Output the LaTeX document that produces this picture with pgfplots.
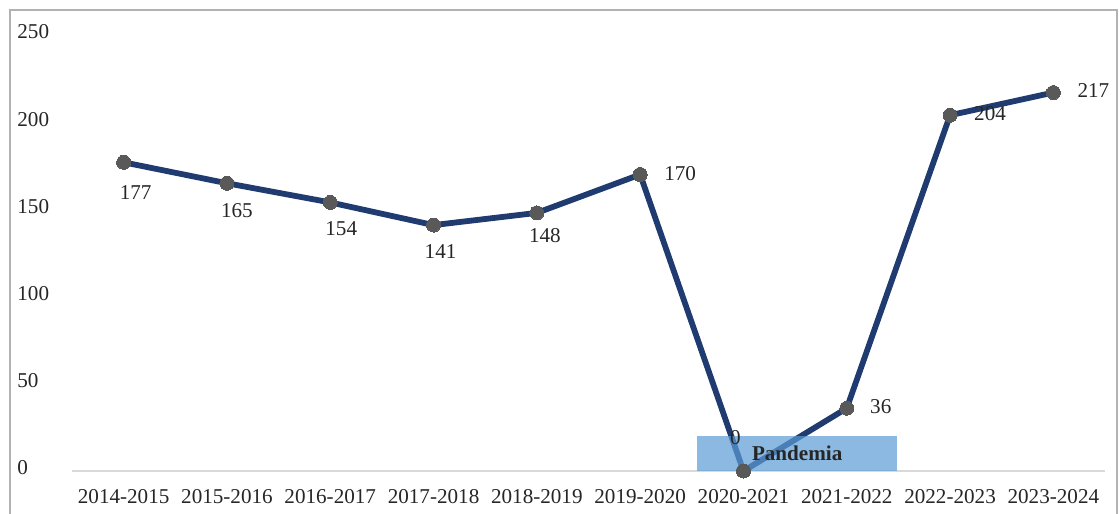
\documentclass[border=0pt]{standalone}
\usepackage{pgfplots}
\pgfplotsset{compat=1.18}
\usepackage{fontspec}
\setmainfont{Liberation Serif}
\definecolor{linec}{HTML}{1F3B6F}
\definecolor{markc}{HTML}{595959}
\definecolor{boxc}{HTML}{5B9BD5}
\definecolor{axc}{HTML}{D9D9D9}
\begin{document}
\begin{tikzpicture}[x=1bp,y=1bp]
\useasboundingbox (0,0) rectangle (559.5,256.5);
\draw[black!30, line width=0.6bp] (5,-2) -- (5,251.5) -- (558.5,251.5) -- (558.5,-2);
\begin{axis}[
  at={(36bp,21bp)}, anchor=south west,
  scale only axis, width=516.5bp, height=218bp,
  xmin=-0.5, xmax=9.5, ymin=0, ymax=250,
  xtick={0,...,9},
  xticklabels={2014-2015,2015-2016,2016-2017,2017-2018,2018-2019,2019-2020,2020-2021,2021-2022,2022-2023,2023-2024},
  ytick={0,50,...,250},
  axis line style={draw=none},
  major tick length=0pt,
  clip=false,
  /pgf/number format/assume math mode=true,
  tick label style={font=\fontsize{10.6}{12}\selectfont, text=black!85},
  yticklabel style={anchor=west, inner sep=0pt, xshift=-27.5bp, yshift=1.5bp},
  xticklabel style={anchor=center, inner sep=0pt, yshift=-13bp},
]
\draw[axc, line width=0.8bp] (axis cs:-0.5,0) -- (axis cs:9.5,0);
\addplot[linec, line width=2.9bp, line join=round, mark=*, mark size=3.5bp, mark options={fill=markc, draw=markc, line width=0pt}]
  coordinates {(0,177) (1,165) (2,154) (3,141) (4,148) (5,170) (6,0) (7,36) (8,204) (9,217)};
\fill[boxc, fill opacity=0.7] (axis cs:5.55,0) rectangle (axis cs:7.49,20);
\addplot[only marks, mark=*, mark size=3.5bp, mark options={fill=markc, draw=markc, line width=0pt}]
  coordinates {(6,0)};
\begin{scope}[every node/.style={font=\fontsize{10.6}{12}\selectfont, text=black!85, inner sep=0pt}]
\node[xshift=6bp, yshift=-15bp] at (axis cs:0,177) {177};
\node[xshift=5bp, yshift=-13.5bp] at (axis cs:1,165) {165};
\node[xshift=5.5bp, yshift=-13bp] at (axis cs:2,154) {154};
\node[xshift=3.5bp, yshift=-13bp] at (axis cs:3,141) {141};
\node[xshift=4bp, yshift=-11.5bp] at (axis cs:4,148) {148};
\node[xshift=20bp, yshift=0.5bp] at (axis cs:5,170) {170};
\node[xshift=-4bp, yshift=16.5bp] at (axis cs:6,0) {0};
\node[xshift=17bp, yshift=1bp] at (axis cs:7,36) {36};
\node[xshift=20bp, yshift=1bp] at (axis cs:8,204) {204};
\node[xshift=20bp, yshift=1bp] at (axis cs:9,217) {217};
\node[font=\fontsize{10.6}{12}\selectfont\bfseries] at (axis cs:6.52,10) {Pandemia};
\end{scope}
\end{axis}
\end{tikzpicture}
\end{document}
